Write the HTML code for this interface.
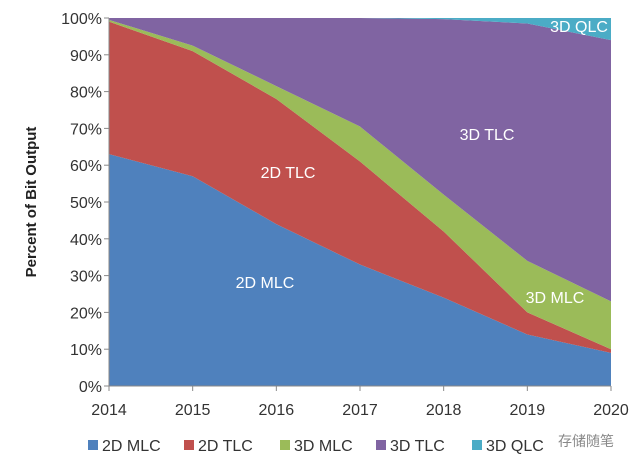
<!DOCTYPE html>
<html><head><meta charset="utf-8"><style>
body{margin:0;background:#fff;width:640px;height:469px;overflow:hidden;font-family:"Liberation Sans","Noto Sans CJK SC",sans-serif}
</style></head><body>
<svg width="640" height="469" id="chart">
<text transform="translate(36,202) rotate(-90)" text-anchor="middle" font-size="15" font-weight="bold" fill="#222">Percent of Bit Output</text>
</svg>
<script>
const years=["2014","2015","2016","2017","2018","2019","2020"];
const mlc2d=[63,57,44,33,24,14,9];
const tlc2d=[36,34,34,28,18,6,1];
const mlc3d=[0.5,1.5,3.5,9.5,10,14,13];
const qlc3d=[0,0,0,0,0.3,1.5,6];
const yTicks=[0,10,20,30,40,50,60,70,80,90,100];
const tlc3d=years.map((_,i)=>100-mlc2d[i]-tlc2d[i]-mlc3d[i]-qlc3d[i]);
const series=[["2D MLC",mlc2d,"#4f81bd"],["2D TLC",tlc2d,"#c0504d"],["3D MLC",mlc3d,"#9bbb59"],["3D TLC",tlc3d,"#8064a2"],["3D QLC",qlc3d,"#4bacc6"]];
const X0=109,X1=611,Y0=386,Y1=18;
const x=i=>X0+(X1-X0)*i/(years.length-1);
const y=v=>Y0-(Y0-Y1)*v/100;
const svg=document.getElementById('chart');const NS="http://www.w3.org/2000/svg";
function mk(t,a,p){const e=document.createElementNS(NS,t);for(const k in a)e.setAttribute(k,a[k]);(p||svg).appendChild(e);return e;}
let base=years.map(()=>0);
series.forEach(([name,vals,col])=>{
  const top=base.map((b,i)=>b+vals[i]);
  let d=top.map((v,i)=>(i?'L':'M')+x(i)+','+y(v)).join(' ');
  for(let i=years.length-1;i>=0;i--)d+=' L'+x(i)+','+y(base[i]);
  const p=mk('path',{d:d+'Z',fill:col});
  
  
  base=top;
});
mk('line',{x1:X0,y1:Y0,x2:X1,y2:Y0,stroke:'#888'});
mk('line',{x1:X0,y1:Y1,x2:X0,y2:Y0,stroke:'#888'});
yTicks.forEach(v=>{
  mk('line',{x1:X0-5,y1:y(v),x2:X0,y2:y(v),stroke:'#888'});
  const t=mk('text',{x:X0-7,y:y(v)+6,'text-anchor':'end','font-size':16,fill:'#333'});
  t.textContent=v+'%';
  
  
});
years.forEach((yr,i)=>{
  mk('line',{x1:x(i),y1:Y0,x2:x(i),y2:Y0+5,stroke:'#888'});
  const t=mk('text',{x:x(i),y:Y0+29,'text-anchor':'middle','font-size':16,fill:'#333'});
  t.textContent=yr;
  
  
});
[["2D MLC",265,288],["2D TLC",288,178],["3D TLC",487,140],["3D MLC",555,303],["3D QLC",579,32]].forEach(([s,a,b])=>{
  const t=mk('text',{x:a,y:b,'text-anchor':'middle','font-size':16,fill:'#fff'});t.textContent=s;
  
  
});
let lx=88;
series.forEach(([name,,col])=>{
  const g=mk('g',{});
  
  
  mk('rect',{x:lx,y:440,width:10,height:10,fill:col},g);
  const t=mk('text',{x:lx+14,y:451,'font-size':16,fill:'#333'},g);t.textContent=name;
  lx+=96;
});
const w=mk('text',{x:558,y:446,'font-size':14,fill:'#888'});w.textContent='存储随笔';


</script>
</body></html>
